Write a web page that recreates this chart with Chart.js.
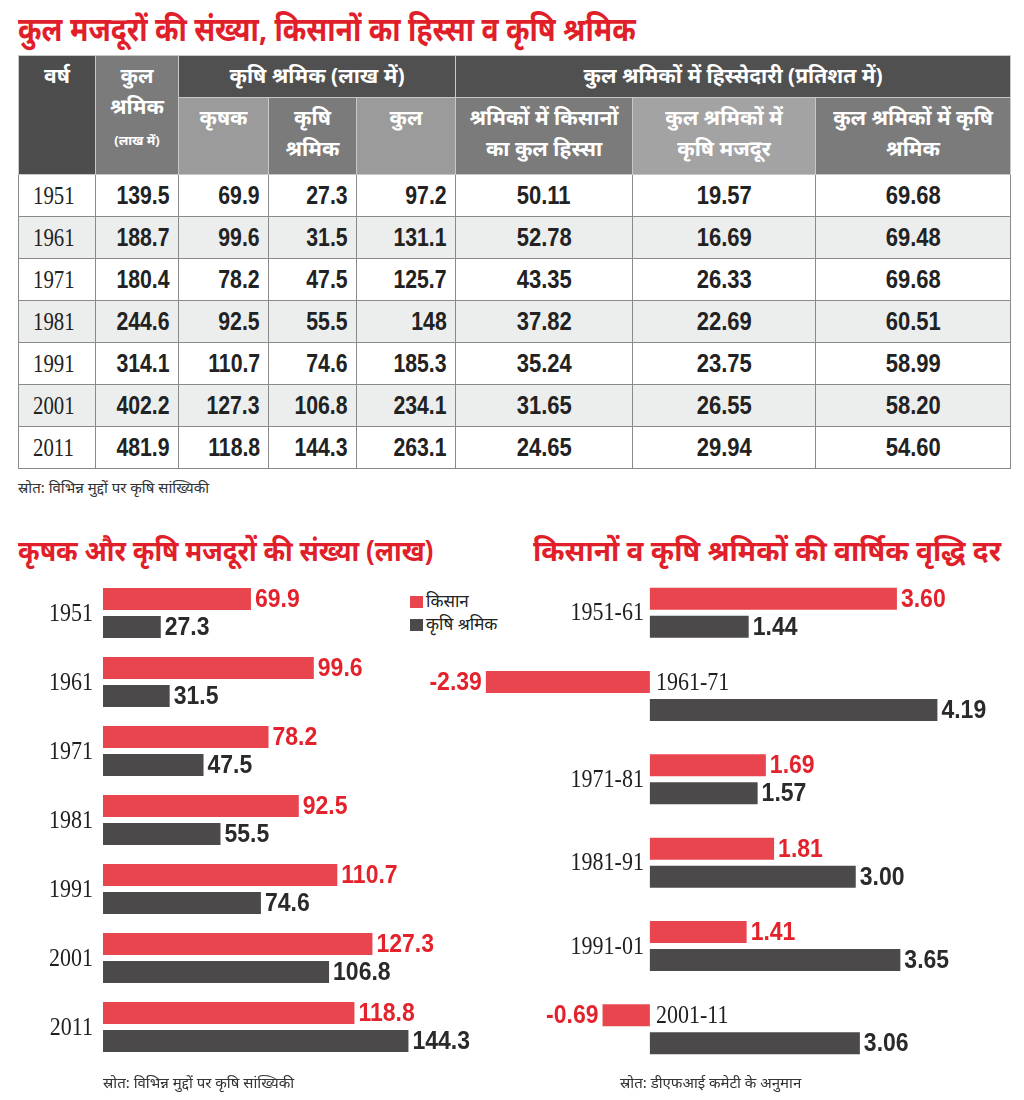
<!DOCTYPE html>
<html lang="hi">
<head>
<meta charset="utf-8">
<title>कुल मजदूरों की संख्या, किसानों का हिस्सा व कृषि श्रमिक</title>
<script src="https://cdn.jsdelivr.net/npm/chart.js@4.4.0/dist/chart.umd.min.js"></script>
<style>
  body { margin: 0; width: 1024px; height: 1100px; position: relative; overflow: hidden; background: #fff;
         font-family: "Noto Sans", "Noto Sans Devanagari", "Lohit Devanagari", sans-serif; color: #222; }
  .title { position: absolute; color: #e01f2b; font-weight: bold; white-space: nowrap; line-height: 1; transform-origin: left top; }
  .source { position: absolute; font-size: 15px; color: #333; white-space: nowrap; }
  table { position: absolute; left: 18px; top: 55px; width: 992px; border-collapse: collapse; table-layout: fixed; }
  th { color: #fff; font-weight: bold; font-size: 21px; line-height: 31px; vertical-align: top;
       border: 1px solid #c8c8c8; padding: 4px 2px 0; }
  td { height: 41px; border: 1px solid #8a8a8a; padding: 0 8px; font-size: 25px; white-space: nowrap;
       font-family: "Liberation Sans", Arial, sans-serif; font-weight: bold; color: #222; }
  td span { display: inline-block; }
  td.year { font-family: "Liberation Serif", serif; font-weight: normal; font-size: 26px; padding-left: 14px; }
  td.year span { transform: scaleX(0.8); transform-origin: left center; }
  td.num { text-align: right; }
  td.num span { transform: scaleX(0.85); transform-origin: right center; }
  td.pct { text-align: center; }
  td.pct span { transform: scaleX(0.88); transform-origin: center center; }
  tr.alt td { background: #eceeed; }
  .legend { position: absolute; left: 410px; font-size: 17px; color: #222; white-space: nowrap; }
  .legend i { display: inline-block; width: 13px; height: 12px; margin-right: 3px; vertical-align: -1px; }
  .chartbox { position: absolute; }
</style>
</head>
<body>

<div class="title" style="left:18px;top:12px;font-size:33px;transform:scaleX(0.86);">कुल मजदूरों की संख्या, किसानों का हिस्सा व कृषि श्रमिक</div>

<table id="tbl">
  <colgroup>
    <col style="width:77px"><col style="width:83px"><col style="width:90px"><col style="width:88px">
    <col style="width:99px"><col style="width:177px"><col style="width:183px"><col style="width:195px">
  </colgroup>
  <thead>
    <tr style="height:42px">
      <th rowspan="2" style="background:#4d4d4d">वर्ष</th>
      <th rowspan="2" style="background:#7b7b7b">कुल<br>श्रमिक<br><span style="font-size:13px">(लाख में)</span></th>
      <th colspan="3" style="background:#505050">कृषि श्रमिक (लाख में)</th>
      <th colspan="3" style="background:#505050">कुल श्रमिकों में हिस्सेदारी (प्रतिशत में)</th>
    </tr>
    <tr style="height:77px">
      <th style="background:#9b9b9b">कृषक</th>
      <th style="background:#7b7b7b">कृषि<br>श्रमिक</th>
      <th style="background:#9b9b9b">कुल</th>
      <th style="background:#7b7b7b">श्रमिकों में किसानों<br>का कुल हिस्सा</th>
      <th style="background:#a3a3a3">कुल श्रमिकों में<br>कृषि मजदूर</th>
      <th style="background:#7b7b7b">कुल श्रमिकों में कृषि<br>श्रमिक</th>
    </tr>
  </thead>
  <tbody id="tbody"></tbody>
</table>
<div class="source" style="left:18px;top:477px;">स्रोत: विभिन्न मुद्दों पर कृषि सांख्यिकी</div>

<div class="title" style="left:18px;top:535px;font-size:29px;transform:scaleX(0.9);">कृषक और कृषि मजदूरों की संख्या (लाख)</div>
<div class="title" style="left:533px;top:535px;font-size:29px;transform:scaleX(0.97);">किसानों व कृषि श्रमिकों की वार्षिक वृद्धि दर</div>

<div class="legend" style="top:589px;"><i style="background:#e8454e"></i>किसान</div>
<div class="legend" style="top:612px;"><i style="background:#4b494a"></i>कृषि श्रमिक</div>

<div class="chartbox" style="left:0;top:560px;width:510px;height:520px;"><canvas id="countChart" width="510" height="520"></canvas></div>
<div class="chartbox" style="left:400px;top:560px;width:624px;height:520px;"><canvas id="growthChart" width="624" height="520"></canvas></div>

<div class="source" style="left:103px;top:1072px;">स्रोत: विभिन्न मुद्दों पर कृषि सांख्यिकी</div>
<div class="source" style="left:620px;top:1072px;">स्रोत: डीएफआई कमेटी के अनुमान</div>

<script>
// ---- table data ----
const years = ['1951', '1961', '1971', '1981', '1991', '2001', '2011'];
const totalWorkers = [139.5, 188.7, 180.4, 244.6, 314.1, 402.2, 481.9];
const cultivators = [69.9, 99.6, 78.2, 92.5, 110.7, 127.3, 118.8];
const agriLabourers = [27.3, 31.5, 47.5, 55.5, 74.6, 106.8, 144.3];
const agriTotal = [97.2, 131.1, 125.7, 148, 185.3, 234.1, 263.1];
const shareCultivators = [50.11, 52.78, 43.35, 37.82, 35.24, 31.65, 24.65];
const shareLabourers = [19.57, 16.69, 26.33, 22.69, 23.75, 26.55, 29.94];
const shareAgri = [69.68, 69.48, 69.68, 60.51, 58.99, 58.20, 54.60];

// ---- growth rate data ----
const periods = ['1951-61', '1961-71', '1971-81', '1981-91', '1991-01', '2001-11'];
const growthCultivators = [3.60, -2.39, 1.69, 1.81, 1.41, -0.69];
const growthLabourers = [1.44, 4.19, 1.57, 3.00, 3.65, 3.06];

const RED = '#e8454e', DARK = '#4b494a';
const RED_TEXT = '#e3222c', DARK_TEXT = '#2b292a';
const NUM_FONT = 'bold 25px "Liberation Sans", Arial, sans-serif';
const CAT_FONT = '25px "Liberation Serif", serif';

// build table rows
const tbody = document.getElementById('tbody');
years.forEach((y, i) => {
  const tr = document.createElement('tr');
  if (i % 2 === 1) tr.className = 'alt';
  tr.innerHTML =
    `<td class="year"><span>${y}</span></td>` +
    `<td class="num"><span>${totalWorkers[i]}</span></td>` +
    `<td class="num"><span>${cultivators[i]}</span></td>` +
    `<td class="num"><span>${agriLabourers[i]}</span></td>` +
    `<td class="num"><span>${agriTotal[i]}</span></td>` +
    `<td class="pct"><span>${shareCultivators[i].toFixed(2)}</span></td>` +
    `<td class="pct"><span>${shareLabourers[i].toFixed(2)}</span></td>` +
    `<td class="pct"><span>${shareAgri[i].toFixed(2)}</span></td>`;
  tbody.appendChild(tr);
});

// draw text squeezed horizontally around its anchor
function squeezed(ctx, txt, x, y, align, sx) {
  ctx.save();
  ctx.translate(x, y);
  ctx.scale(sx, 1);
  ctx.textAlign = align;
  ctx.fillText(txt, 0, 0);
  ctx.restore();
}

// value labels at bar ends + category labels
const barLabels = {
  id: 'barLabels',
  afterDatasetsDraw(chart, args, opts) {
    const ctx = chart.ctx;
    ctx.save();
    ctx.textBaseline = 'middle';
    ctx.font = NUM_FONT;
    chart.data.datasets.forEach((ds, i) => {
      chart.getDatasetMeta(i).data.forEach((bar, j) => {
        const v = ds.data[j];
        ctx.fillStyle = ds.labelColor;
        const txt = v.toFixed(opts.decimals);
        if (v >= 0) squeezed(ctx, txt, bar.x + 4, bar.y + 1, 'left', 0.92);
        else squeezed(ctx, txt, bar.x - 4, bar.y + 1, 'right', 0.92);
      });
    });

    // category labels, condensed serif
    const yScale = chart.scales.y, xScale = chart.scales.x;
    const zero = xScale.getPixelForValue(0);
    const redBars = chart.getDatasetMeta(0).data;
    ctx.font = CAT_FONT;
    ctx.fillStyle = '#1f1f1f';
    chart.data.labels.forEach((lab, j) => {
      let x, y = yScale.getPixelForValue(j), align = 'right';
      if (opts.mode === 'left') {
        x = chart.chartArea.left - 10;
      } else if (chart.data.datasets[0].data[j] >= 0) {
        x = zero - 6;
      } else {
        x = zero + 6; y = redBars[j].y; align = 'left';
      }
      squeezed(ctx, lab, x, y + 1, align, 0.88);
    });
    ctx.restore();
  }
};

function barOptions(xMin, xMax, padding, mode, decimals) {
  return {
    indexAxis: 'y',
    responsive: false,
    animation: false,
    layout: { padding: padding },
    plugins: {
      legend: { display: false },
      tooltip: { enabled: false },
      barLabels: { mode: mode, decimals: decimals }
    },
    scales: {
      x: { display: false, min: xMin, max: xMax },
      y: { display: false }
    }
  };
}

new Chart(document.getElementById('countChart'), {
  type: 'bar',
  data: {
    labels: years,
    datasets: [
      { label: 'किसान', data: cultivators, backgroundColor: RED, labelColor: RED_TEXT,
        categoryPercentage: 0.81, barPercentage: 0.786 },
      { label: 'कृषि श्रमिक', data: agriLabourers, backgroundColor: DARK, labelColor: DARK_TEXT,
        categoryPercentage: 0.81, barPercentage: 0.786 }
    ]
  },
  options: barOptions(0, 180, { left: 103, right: 26, top: 18.5, bottom: 18.5 }, 'left', 1),
  plugins: [barLabels]
});

new Chart(document.getElementById('growthChart'), {
  type: 'bar',
  data: {
    labels: periods,
    datasets: [
      { label: 'किसान', data: growthCultivators, backgroundColor: RED, labelColor: RED_TEXT,
        categoryPercentage: 0.671, barPercentage: 0.786 },
      { label: 'कृषि श्रमिक', data: growthLabourers, backgroundColor: DARK, labelColor: DARK_TEXT,
        categoryPercentage: 0.671, barPercentage: 0.786 }
    ]
  },
  options: barOptions(-3, 5, { left: 44, right: 31, top: 11, bottom: 9 }, 'zero', 2),
  plugins: [barLabels]
});
</script>
</body>
</html>
